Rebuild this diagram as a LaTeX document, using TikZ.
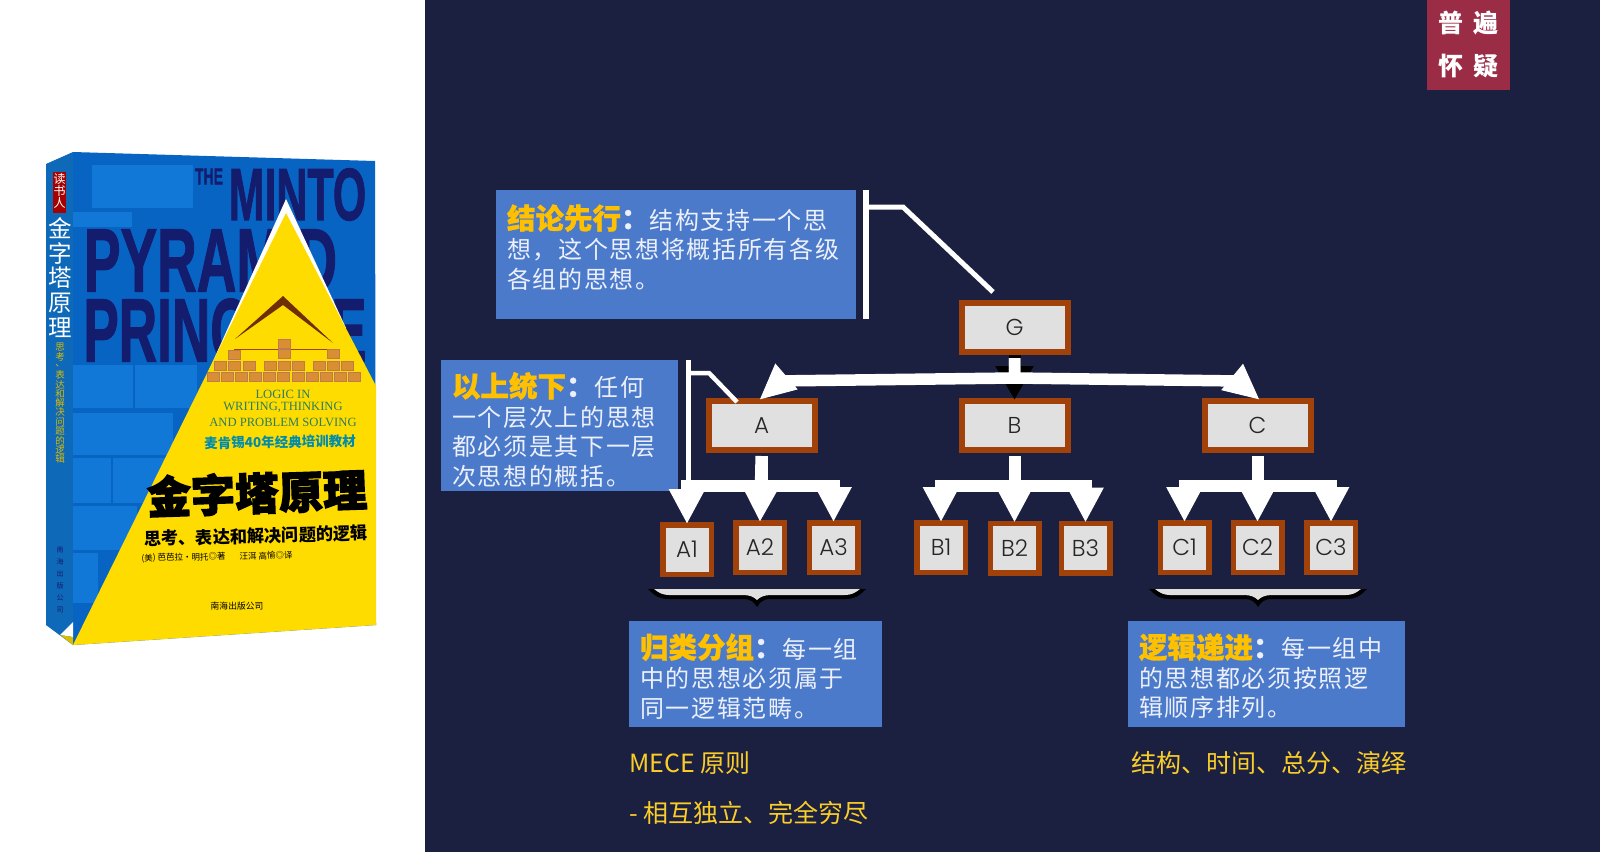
\documentclass[tikz,border=0pt]{standalone}
\usepackage{fontspec}
\usetikzlibrary{positioning,arrows.meta}
\newfontfamily\cjkfont{Noto Sans CJK SC}
\newfontfamily\bodyfont[LetterSpace=7]{Noto Sans CJK SC}
\newfontfamily\latinfont[UprightFont={* Light}]{Poppins}
\newfontfamily\coverfont{Liberation Sans}
\newfontfamily\coverserif{Liberation Serif}
\definecolor{ppNavy}{RGB}{28,32,64}
\definecolor{ppNote}{RGB}{76,122,203}
\definecolor{ppGold}{RGB}{255,192,0}
\definecolor{ppYellow}{RGB}{250,205,40}
\definecolor{ppPaper}{RGB}{236,240,250}
\definecolor{ppRust}{RGB}{160,66,10}
\definecolor{ppGrey}{RGB}{224,224,224}
\definecolor{ppWine}{RGB}{155,44,70}
\definecolor{ppCover}{RGB}{8,100,195}
\definecolor{ppBrick}{RGB}{18,120,215}
\definecolor{ppSpine}{RGB}{15,105,185}
\definecolor{ppInk}{RGB}{20,28,110}
\definecolor{ppSun}{RGB}{255,220,0}
\definecolor{ppOrange}{RGB}{218,142,52}
\definecolor{ppTeal}{RGB}{45,125,95}
\definecolor{ppSea}{RGB}{0,140,170}
\tikzset{
    topbox/.style={rectangle, draw=ppRust, line width=6pt, fill=ppGrey, text=black!85,
                   minimum width=106pt, minimum height=49pt, inner sep=0pt,
                   font=\latinfont\fontsize{23}{26}\selectfont},
    leafbox/.style={topbox, line width=5.5pt, minimum width=48.5pt, minimum height=49.5pt},
    notebox/.style={rectangle, fill=ppNote, text=ppPaper, align=left, inner xsep=11pt, inner ysep=0pt,
                    font=\bodyfont\fontsize{24}{29.5}\selectfont},
    yellowtext/.style={text=ppYellow, anchor=west, inner sep=0pt,
                       font=\cjkfont\fontsize{25}{30}\selectfont},
    treeflow/.style={white, line width=12pt, -{Triangle[length=35pt,width=34pt]},
                     shorten >=-2pt, shorten <=3pt},
    topshaft/.style={white, line width=11.5pt, line join=round, shorten <=3pt},
    tophead/.style={white, line width=1pt, -{Triangle[length=35pt,width=34pt]}, shorten >=-2pt},
    callout/.style={white, line width=5pt},
    stacked/.style={inner sep=0pt, font=\cjkfont\fontsize{23.5}{23.5}\selectfont},
    covertext/.style={inner sep=0pt, text=ppInk, transform shape},
    teallines/.style={inner sep=0pt, text=ppTeal, font=\coverserif\fontsize{12.6}{13}\selectfont}
}
\newcommand{\coverbold}[1]{\coverfont\bfseries\fontsize{#1}{#1}\selectfont\addfontfeature{FakeBold=1.5}}
\newcommand{\notetitle}[1]{{\cjkfont\bfseries\fontsize{28.5}{29.5}\selectfont\addfontfeature{FakeBold=1}\textcolor{ppGold}{#1}：}}

\begin{document}
\begin{tikzpicture}[x=1pt,y=-1pt]
  \useasboundingbox (0,0) rectangle (1600,852);
  \fill[white] (0,0) rectangle (425,852);
  \fill[ppNavy] (425,0) rectangle (1600,852);

  % Book: cover and spine
  \fill[ppCover] (73,152) -- (375,161) -- (376,625) -- (73,645) -- cycle;
  \fill[ppSpine] (46,164) -- (73,152) -- (73,645) -- (46,625) -- cycle;
  \foreach \bx/\by/\bw/\bh in {92/165/101/43, 73/212/59/15, 73/365/60/43, 135/365/62/43, 73/413/100/42,
                               73/458/38/45, 113/458/54/45, 73/506/64/44, 73/553/25/50}
    \fill[ppBrick] (\bx,\by) rectangle ++(\bw,\bh);
  \node[covertext, font=\coverbold{23}, xscale=.61] (the) at (209,176.5) {THE};
  \node[covertext, font=\coverbold{74}, xscale=.58] (minto) at (297.5,194.5) {MINTO};
  \node[covertext, font=\coverbold{90}, xscale=.61] (pyramid) at (210.5,260.5) {PYRAMID};
  \node[covertext, font=\coverbold{90}, xscale=.59] (principle) at (225,330.5) {PRINCIPLE};
  \fill[white] (286,199) -- (346,328) -- (209,370) -- cycle;
  \fill[ppSun] (286,213) -- (376,386) -- (376,625) -- (73,645) -- cycle;
  \fill[white] (73,622) -- (60,635) -- (73,637) -- cycle;
  \fill[ppSun!85!black] (60,635) -- (73,637) -- (73,645) -- cycle;

  % Book: small pyramid
  \fill[ppRust!70!black] (235,339) -- (283,296) -- (333,343) -- (283,305) -- cycle;
  \draw[ppRust, thin] (234,349) -- (333,349);
  \foreach \bx/\by in {284/344, 234/355, 284/354, 333/354, 220/366, 234/366, 249/366, 270/366,
                       284/366, 298/366, 319/366, 333/366, 347/366}
    \fill[ppOrange, draw=ppRust!70, very thin] (\bx-6,\by-4.5) rectangle ++(12,9);
  \foreach \bi in {0,...,10}
    \fill[ppOrange, draw=ppRust!70, very thin] ({207+14.1*\bi},372.5) rectangle ++(12,9);

  % Book: texts on the cover
  \node[teallines] (logic) at (283,394) {LOGIC IN};
  \node[teallines] (writing) at (283,407.5) {WRITING,THINKING};
  \node[teallines] (solving) at (283,422) {AND PROBLEM SOLVING};
  \node[inner sep=0pt, text=ppSea, rotate=.8, font=\cjkfont\bfseries\fontsize{13.5}{14}\selectfont] (course) at (280,442) {麦肯锡40年经典培训教材};
  \node[inner sep=0pt, rotate=2, font=\cjkfont\bfseries\fontsize{44}{44}\selectfont] (bigtitle) at (257,493) {\addfontfeature{FakeBold=3}金字塔原理};
  \node[inner sep=0pt, rotate=1.5, font=\cjkfont\bfseries\fontsize{17.2}{18}\selectfont] (subtitle) at (256,536) {思考、表达和解决问题的逻辑};
  \node[inner sep=0pt, rotate=1, font=\cjkfont\fontsize{8.5}{9}\selectfont] (authors) at (217,557) {(美) 芭芭拉·明托◎著\hspace{14pt}汪洱 高愉◎译};
  \node[inner sep=0pt, rotate=1, font=\cjkfont\fontsize{8.8}{9}\selectfont] (press) at (237,606) {南海出版公司};

  % Book: spine
  \fill[red!65!black] (53,172) rectangle (66,213);
  \foreach \ch [count=\i] in {读,书,人}
    \node[stacked, text=white, font=\cjkfont\fontsize{12}{12}\selectfont] (seal\i) at (59.5,{167+12*\i}) {\ch};
  \foreach \ch [count=\i] in {金,字,塔,原,理}
    \node[stacked, text=white] (sp\i) at (60,{203+25*\i}) {\ch};
  \foreach \ch [count=\i] in {思,考,、,表,达,和,解,决,问,题,的,逻,辑}
    \node[stacked, text=ppSun!85!black, font=\cjkfont\fontsize{9.5}{9.5}\selectfont] (sub\i) at (60,{338+9.3*\i}) {\ch};
  \foreach \ch [count=\i] in {南,海,出,版,公,司}
    \node[stacked, text=ppInk, font=\cjkfont\fontsize{7}{7}\selectfont] (ps\i) at (60,{538+12*\i}) {\ch};

  % Tag
  \fill[ppWine] (1427,0) rectangle (1510,90);
  \node[text=white, align=center, inner sep=0pt, font=\cjkfont\bfseries\fontsize{25}{43}\selectfont] (tag) at (1468.5,44.5) {普\hspace{10pt}遍\\怀\hspace{10pt}疑};

  % Notes
  \node[notebox, text width=338pt, minimum height=129pt] (conclusion) at (676,254.5) {\notetitle{结论先行}结构支持一个思\\想，这个思想将概括所有各级\\各组的思想。\\[-13pt]\mbox{}};
  \node[notebox, text width=215pt, minimum height=131pt] (summary) at (559.5,425.5) {\rule{0pt}{33pt}\notetitle{以上统下}任何\\一个层次上的思想\\都必须是其下一层\\次思想的概括。};
  \node[notebox, text width=231pt, minimum height=106pt] (grouping) at (755.5,674) {\rule{0pt}{29pt}\notetitle{归类分组}每一组\\中的思想必须属于\\同一逻辑范畴。};
  \node[notebox, text width=255pt, minimum height=106pt] (ordering) at (1266.5,674) {\rule{0pt}{29pt}\notetitle{逻辑递进}每一组中\\的思想都必须按照逻\\辑顺序排列。};

  \node[yellowtext] (mece) at (629,763) {MECE 原则};
  \node[yellowtext] (mutual) at (629,813) {- 相互独立、完全穷尽};
  \node[yellowtext] (orders) at (1131,763) {结构、时间、总分、演绎};

  % Tree
  \node[topbox] (G) at (1014.5,327.5) {G};
  \node[topbox, below=43pt of G] (B) {B};
  \node[topbox, left=141pt of B] (A) {A};
  \node[topbox, right=131pt of B] (C) {C};
  \foreach \nm/\cx/\cy in {A1/687/549.5, A2/760/547.5, A3/833.5/547.5, B1/941/547.5, B2/1014.5/548,
                           B3/1085.5/548, C1/1184.5/547.5, C2/1257.5/547.5, C3/1331/547.5}
    \node[leafbox] (\nm) at (\cx,\cy) {\nm};

  % Bars beside the notes
  \draw[white, line width=6pt] (865.5,190) -- (865.5,319);
  \draw[white, line width=5pt] (688.5,360) -- (688.5,487);
  \coordinate (gEnd) at (993,292);
  \coordinate (aEnd) at (737,402);
  \draw[callout] (868,207) -- (903,207) -- (gEnd);
  \draw[callout, line width=4.5pt] (691,373) -- (709,373) -- (aEnd);

  % Arrows from G
  \path (G.south) ++(0,23) coordinate (hub);
  \coordinate (aTail) at (787,376);
  \coordinate (cTail) at (1231,376);
  \draw[black, line width=12pt, -{Triangle[length=34pt,width=36pt]}, shorten >=-2pt] (G.south) -- (B.north);
  \draw[topshaft] (G.south) -- (hub) -- (775,381);
  \draw[topshaft] (G.south) -- (hub) -- (1240,381);
  \draw[tophead] (aTail) -- (A.north);
  \draw[tophead] (cTail) -- (C.north);

  % Arrows to the leaves
  \foreach \tp in {A,B,C} {
    \path (\tp.south) ++(0,33) coordinate (\tp bar);
    \draw[treeflow] (\tp.south) -- (\tp bar) -| (\tp 1.north);
    \draw[treeflow] (\tp.south) -- (\tp 2.north);
    \draw[treeflow] (\tp.south) -- (\tp bar) -| (\tp 3.north);
  }

  % Braces below A and C
  \foreach \cx in {757,1258} {
    \begin{scope}[xshift=\cx pt]
      \fill[black] (-109,589) .. controls (-102,596) and (-98,599) .. (-88,599) -- (-14,599)
        .. controls (-6,599) and (-3,602) .. (0,607) .. controls (3,602) and (6,599) .. (14,599)
        -- (88,599) .. controls (98,599) and (102,596) .. (109,589) -- cycle;
      \fill[ppGrey] (-103,589) .. controls (-98,593) and (-94,595) .. (-88,595) -- (-14,595)
        .. controls (-7,595) and (-3,597) .. (0,600) .. controls (3,597) and (7,595) .. (14,595)
        -- (88,595) .. controls (94,595) and (98,593) .. (103,589) -- cycle;
    \end{scope}
  }
\end{tikzpicture}
\end{document}
